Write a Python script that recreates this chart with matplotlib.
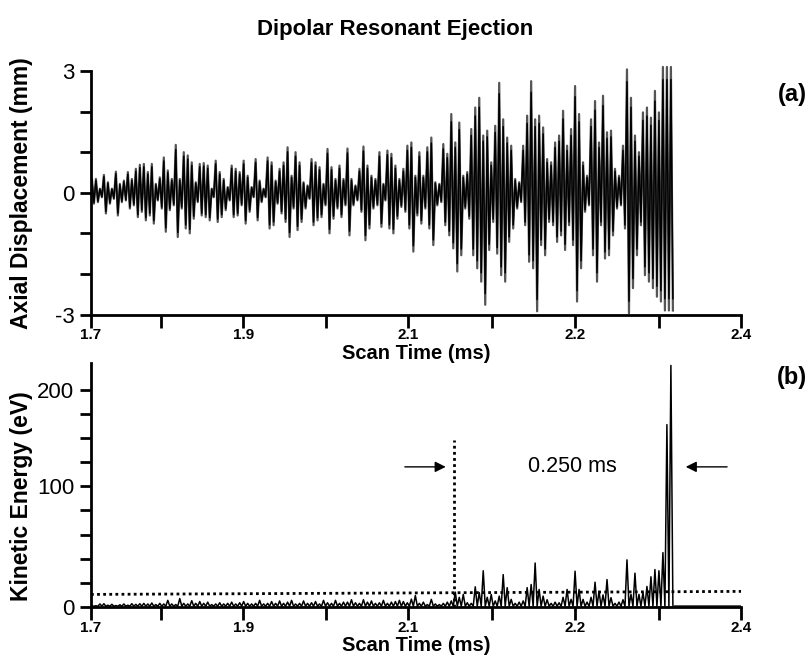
import numpy as np
import matplotlib.pyplot as plt

plt.rcParams['font.family'] = ['Liberation Sans', 'DejaVu Sans']

# sample times (ms), one sample every ~0.0043 ms from 1.701 to 2.325
t0 = 1.701
dt = 0.0043

# panel (a): axial displacement (mm), upper and lower swing read per sample
disp_hi = [0.34, 0.34, 0.10, 0.44, 0.26, 0.10, 0.52, 0.22, 0.30, 0.51, 0.34, 0.59, 0.69, 0.71, 0.51,
           0.71, 0.22, 0.38, 0.87, 0.55, 0.34, 1.18, 0.34, 1.00, 0.92, 0.75, 0.26, 0.71, 0.73,
           0.67, 0.10, 0.79, 0.51, 0.34, 0.14, 0.67, 0.59, 0.51, 0.79, 0.42, 0.14, 0.83, 0.30, 0.10,
           0.87, 0.75, 0.30, 0.59, 0.75, 1.12, 0.42, 1.00, 0.75, 0.26, 0.18, 0.83, 0.75, 0.63, 0.22,
           1.08, 0.63, 0.34, 0.67, 0.34, 1.09, 0.34, 0.18, 0.59, 1.14, 0.67, 0.42, 0.34, 1.00, 0.22,
           1.04, 0.96, 0.67, 0.34, 0.59, 1.16, 1.24, 0.42, 1.00, 0.42, 1.12, 1.36, 0.26, 0.22,
           1.20, 0.96, 1.94, 1.24, 1.73, 0.42, 0.51, 1.57, 2.10, 2.34, 1.41, 1.53, 0.75, 1.65, 2.71,
           1.81, 1.36, 1.16, 0.34, 0.26, 1.16, 1.90, 2.75, 1.81, 1.90, 1.61, 0.83, 0.75, 1.24,
           1.41, 2.02, 1.16, 1.57, 2.63, 1.94, 0.75, 0.42, 1.81, 2.26, 1.24, 2.39, 1.49, 1.53, 0.59,
           0.42, 1.16, 3.04, 2.34, 1.41, 1.00, 1.98, 2.10, 1.85, 2.51, 1.98, 3.10, 3.10, 3.10]
disp_lo = [-0.27, -0.23, -0.11, -0.51, -0.27, -0.15, -0.56, -0.23, -0.19, -0.39, -0.31, -0.60, -0.47, -0.68, -0.56,
           -0.76, -0.19, -0.39, -0.96, -0.43, -0.31, -1.09, -0.39, -0.88, -1.00, -0.64, -0.23, -0.56, -0.60,
           -0.68, -0.11, -0.72, -0.60, -0.43, -0.19, -0.60, -0.56, -0.31, -0.76, -0.47, -0.11, -0.68, -0.23, -0.11,
           -0.88, -0.80, -0.27, -0.51, -0.72, -1.09, -0.39, -0.92, -0.72, -0.39, -0.15, -0.80, -0.68, -0.60, -0.31,
           -1.00, -0.64, -0.39, -0.60, -0.31, -1.05, -0.31, -0.19, -0.47, -1.17, -0.88, -0.39, -0.31, -0.84, -0.19,
           -0.88, -1.00, -0.64, -0.35, -0.47, -0.88, -1.45, -0.56, -0.76, -0.39, -0.88, -1.29, -0.31, -0.23,
           -0.80, -1.05, -1.37, -1.94, -1.54, -0.39, -0.64, -1.54, -1.86, -2.19, -2.76, -1.41, -0.72, -1.50, -2.03,
           -2.19, -1.21, -0.88, -0.39, -0.23, -0.80, -1.70, -1.86, -2.92, -1.29, -1.54, -0.72, -0.80, -1.21,
           -1.05, -1.41, -0.80, -1.29, -2.68, -1.86, -0.47, -0.31, -1.54, -2.19, -0.80, -1.62, -1.54, -1.05, -0.39,
           -0.31, -0.88, -2.97, -2.35, -1.54, -0.80, -2.03, -2.19, -2.35, -2.56, -2.68, -2.90, -2.90, -2.90]

# panel (b): kinetic energy peaks (eV) per sample, floor between peaks
ke_peak = [1.0, 1.0, 2.5, 2.7, 1.5, 2.2, 1.2, 1.8, 2.5, 1.5, 2.7, 2.2, 2.7, 3.0, 2.5, 3.3, 2.0, 3.0, 2.5, 5.5,
           2.5, 2.0, 7.0, 3.0, 2.5, 5.2, 3.0, 4.5, 3.0, 4.0, 2.0, 2.5, 3.5, 2.5, 3.0, 4.0, 2.5, 3.5, 4.5, 3.0,
           2.5, 3.0, 5.5, 2.5, 3.0, 4.5, 3.0, 5.0, 3.0, 4.0, 5.5, 2.5, 3.0, 5.0, 3.0, 3.5, 4.5, 2.5, 5.5, 3.5,
           3.0, 5.5, 3.0, 4.0, 4.0, 6.0, 3.5, 3.0, 6.0, 4.0, 5.0, 3.0, 3.5, 5.5, 3.0, 4.0, 4.5, 5.5, 4.5, 3.5,
           6.5, 9.5,
           3.0, 4.0, 2.0, 6.3, 2.5, 2.0, 3.0, 4.0, 5.0, 12.3, 8.0, 10.4, 3.5, 3.0, 16.7, 12.0, 30.0, 8.0, 10.4, 5.0,
           9.0, 26.8, 16.0, 6.3, 3.0, 4.0, 5.0, 16.0, 18.6, 36.4, 14.5, 9.0, 6.0, 3.0, 4.0, 3.5, 8.0, 14.5, 6.3, 29.6,
           14.5, 6.3, 4.0, 8.0, 20.5, 13.0, 10.0, 22.7, 7.7, 3.0, 4.0, 6.0, 39.0, 10.4, 28.0, 10.4, 12.0, 17.0, 25.0, 31.0,
           30.0, 45.0, 151.0, 200.0]
ke_floor = 0.6
ke_tail_t = [2.327, 2.4]
ke_tail = [1.0, 1.0]

# threshold (dotted) and marked interval
thr_t = [1.7, 2.4]
thr_ke = [10.4, 12.9]
start_t = 2.091
start_top = 138
end_t = 2.3375
arrow_ke = 116

xtick_pos = [1.7, 1.775, 1.864, 1.953, 2.041, 2.132, 2.221, 2.312, 2.4]
xtick_lab = ['1.7', '', '1.9', '', '2.1', '', '2.2', '', '2.4']

t = t0 + dt * np.arange(len(disp_hi))


def zigzag(hi, lo):
    x = np.empty(2 * len(t))
    y = np.empty(2 * len(t))
    x[0::2] = t
    x[1::2] = t + dt / 2
    y[0::2] = hi
    y[1::2] = lo
    return x, y


fig = plt.figure(figsize=(8.11, 6.63), dpi=100)
ax1 = fig.add_axes([0.1122, 0.5256, 0.8015, 0.3673])
ax2 = fig.add_axes([0.1122, 0.0845, 0.8015, 0.3680])

x, y = zigzag(disp_hi, disp_lo)
ax1.plot(x, y, color='#555555', lw=1.6, clip_on=False)
ax1.plot(x, y * 0.9, color='black', lw=1.1, clip_on=False)
ax1.set_ylim(-3, 3)
ax1.set_yticks(range(-3, 4))
ax1.set_yticklabels(['-3', '', '', '0', '', '', '3'])

x, y = zigzag(ke_peak, [ke_floor] * len(t))
ax2.plot(x, y, color='black', lw=1.1)
ax2.plot(ke_tail_t, ke_tail, color='#444444', lw=2)
ax2.plot(thr_t, thr_ke, color='black', lw=2, linestyle=(0, (1, 1.2)))
ax2.plot([start_t, start_t], [0, start_top], color='black', lw=2, linestyle=(0, (1, 1.2)))
ax2.annotate('', xy=(start_t - 0.006, arrow_ke), xytext=(2.035, arrow_ke),
             arrowprops=dict(arrowstyle='-|>', color='black', lw=1, mutation_scale=16))
ax2.annotate('', xy=(end_t, arrow_ke), xytext=(2.388, arrow_ke),
             arrowprops=dict(arrowstyle='-|>', color='black', lw=1, mutation_scale=16))
ax2.text(2.218, arrow_ke, '0.250 ms', ha='center', va='center', fontsize=15.5)
ax2.set_ylim(0, 202)
ax2.set_yticks(range(0, 181, 20))
ax2.set_yticklabels(['0', '', '', '', '', '100', '', '', '', '200'])

for ax in (ax1, ax2):
    ax.set_xlim(1.7, 2.4)
    ax.set_xticks(xtick_pos)
    ax.set_xticklabels(xtick_lab, fontsize=11, fontweight='bold')
    ax.spines['top'].set_visible(False)
    ax.spines['right'].set_visible(False)
    ax.spines['left'].set_linewidth(2)
    ax.spines['bottom'].set_linewidth(2)
    ax.tick_params(axis='x', direction='out', length=9, width=2, pad=1)
    ax.tick_params(axis='y', direction='out', length=8, width=2, pad=4, labelsize=16)
    ax.set_xlabel('Scan Time (ms)', fontsize=14.5, fontweight='bold', labelpad=1)

fig.text(0.027, 0.709, 'Axial Displacement (mm)', rotation=90, ha='center', va='center',
         fontsize=16.5, fontweight='bold')
fig.text(0.027, 0.252, 'Kinetic Energy (eV)', rotation=90, ha='center', va='center',
         fontsize=16.5, fontweight='bold')
fig.text(0.487, 0.955, 'Dipolar Resonant Ejection', ha='center', va='center',
         fontsize=16, fontweight='bold')
fig.text(0.977, 0.858, '(a)', ha='center', va='center', fontsize=17, fontweight='bold')
fig.text(0.977, 0.430, '(b)', ha='center', va='center', fontsize=17, fontweight='bold')

fig.savefig('out.png', dpi=100)
